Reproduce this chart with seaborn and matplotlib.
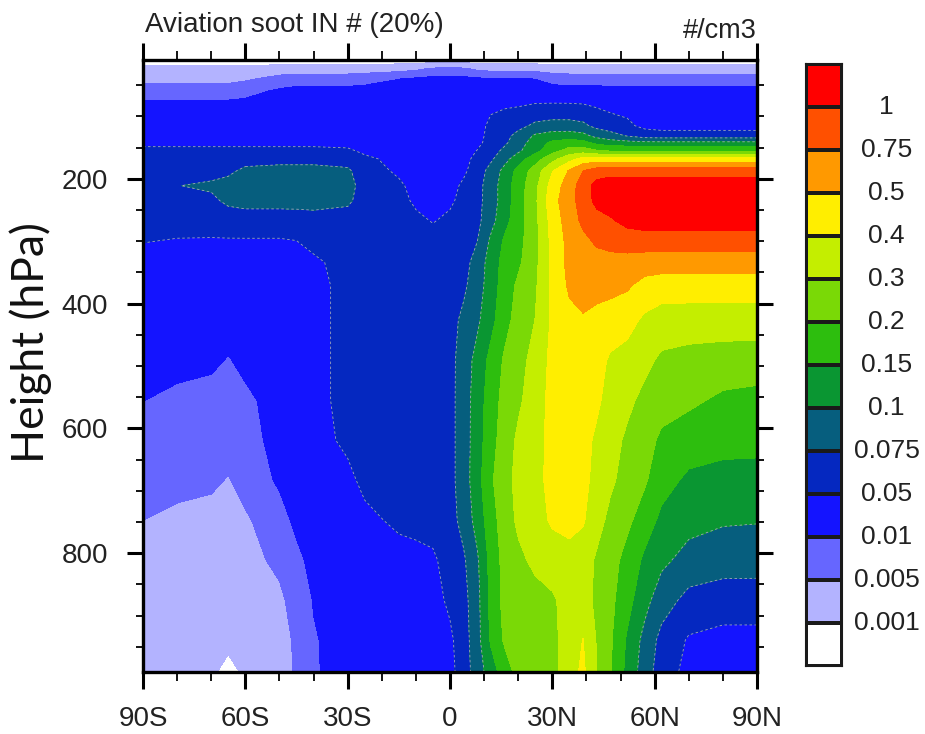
import matplotlib
matplotlib.use('Agg')
import matplotlib.pyplot as plt
import numpy as np
import seaborn as sns

# contour intervals, low to high, and the colours of the label bar
levels = [0.001, 0.005, 0.01, 0.05, 0.075, 0.1, 0.15, 0.2, 0.3, 0.4, 0.5, 0.75, 1]
level_labels = ['0.001', '0.005', '0.01', '0.05', '0.075', '0.1', '0.15', '0.2',
                '0.3', '0.4', '0.5', '0.75', '1']
band_colors = ['#FFFFFF', '#B3B3FF', '#6666FF', '#1414FF', '#0528C0', '#065E7E', '#0A9632',
               '#2DBE0E', '#7AD906', '#C4EE00', '#FFEE00', '#FF9900', '#FF5000', '#FF0000']

# value for each letter in the table below (#/cm3)
band_value = {'w': 0.0001, 'W': 0.0005, 'L': 0.003, 'q': 0.005, 'P': 0.0075, 'k': 0.01, 'c': 0.011,
              'B': 0.03, 'b': 0.045, 'd': 0.052, 'D': 0.0625, 'T': 0.0875, 'g': 0.105, 'G': 0.125,
              'C': 0.175, 'M': 0.25, 'Y': 0.35, 'O': 0.45, 'o': 0.5, 'a': 0.52, 'A': 0.62,
              'R': 0.87, 'r': 0.98, 'X': 1.35}

lats = [-90, -80, -70, -65, -60, -50, -45, -40, -30, -25, -15, -10, -5, 0, 4, 8, 12, 16,
        20, 25, 30, 35, 39, 43, 47, 52, 57, 62, 70, 80, 90]
pressures = [9, 24, 40, 59, 83, 115, 131, 142, 155, 168, 187, 211, 235, 267, 299, 334, 371,
             427, 491, 555, 619, 683, 747, 811, 875, 939, 991]

# one line per pressure, one letter per latitude
soot_rows = [
    'WWWWWWWWWWWWWWWWWWWWWWWWWWWWWWW',
    'LLLLLLLLLLLL PPP LLLLLLLLLLLLLLLL',
    'LLLLL PPPPP BBBBBBBBBB PPPPPPPPPPP',
    'PPPPP BBBBBBBBBBBBBBBBBBBBBBBBBB',
    'BBBBBBBBBBBBBBBB bbbbbbbb BBBBBBB',
    'BBBBBBBBBBBBBBBB DDD TTTT DDD BBBBB',
    'BBBBBBBBBBBBBBBB DD T GGGG TT D ddddd',
    'BBBBBBBBBBBBBBBB DD T G CCC GGGGGGGG',
    'DDDDDDDDD BBBBBB d D TT G C MM CCCCCCCC',
    'DDDDDDDDDD BBBBB DD T G C M Y OOOOOOOOO',
    'DDDD TTTTT D BBBBB D T G C M O A R rrrrrrrr',
    'D TTTTTTTT DD BBB DD T G C M O A R XXXXXXXX',
    'DDD TTTTTT DD BBB DD T G C M AA R XXXXXXXX',
    'DDDDDDDDDDDD B DDD T G C M O A RRR XXXXXX',
    'd bbbbbb DDDDDDDDD G CC M O AA RRRRRRRR',
    'BBBBBBBB DDDDDDD T G CC M O AAAAAAAAAA',
    'BBBBBBBB DDDDDDD T G C MM O AAAAA OOOOO',
    'BBBBBBBB DDDDDD TT G C MM O O a OOO YYYYY',
    'BBB P BBBB DDDDDD T G C MM Y OOOO YYY MMMM',
    'c PPPP BBB DDDDDD T G C MM Y OOOO YY MMM CC',
    'PPPPP BBB DDDDDD T G C M YY OOO YY MM CCCC',
    'PPP L P BBBB DDDDD T G MM YY OOO YY MM C GGG',
    'q LLLL P BBBB DDDD T G C M YY OOO Y MM C GG gg',
    'LLLLL PP BBBBBB DD T C MM YYYY MM C GG TTT',
    'LLLLLL P c BBBBB DD T C MMMM YY MM C G T DDD',
    'LLLLLL q k BBBBBB D T C MMMM Y o MM G T D BBB',
    'LLL w LL q k BBBBBB D T G C MMM Y o MM G T D BBB',
]
soot = np.array([[band_value[c] for c in row.replace(' ', '')] for row in soot_rows])

# contour in band position, so each interval gets the same room between grid points
edges = [0.0001] + levels + [1.5]
band_pos = np.interp(soot, edges, np.arange(len(edges)))

# take the corners off the table before contouring
soft = band_pos.copy()
soft[:, 1:-1] = 0.2 * band_pos[:, :-2] + 0.6 * band_pos[:, 1:-1] + 0.2 * band_pos[:, 2:]
band_pos = soft.copy()
band_pos[1:-1, :] = 0.2 * soft[:-2, :] + 0.6 * soft[1:-1, :] + 0.2 * soft[2:, :]

sns.set_theme(style='ticks')
plt.rcParams['font.family'] = ['Liberation Sans', 'DejaVu Sans']
W, H = 925, 734
fig = plt.figure(figsize=(W / 100, H / 100), dpi=100)

ax = fig.add_axes([143 / W, 1 - 672 / H, 614 / W, 612 / H])
ax.contourf(lats, pressures, band_pos, levels=np.arange(len(edges)),
            colors=sns.color_palette(band_colors, len(band_colors)))
ax.contour(lats, pressures, band_pos, levels=[4, 5, 6], colors='#A0A4BC',
           linewidths=0.6, linestyles=[(0, (3, 3))])

ax.set_xlim(-90, 90)
ax.set_ylim(990.4, 9.6)
ax.set_xticks([-90, -60, -30, 0, 30, 60, 90])
ax.set_xticklabels(['90S', '60S', '30S', '0', '30N', '60N', '90N'], fontsize=20, color='#222222')
ax.set_xticks(np.arange(-90, 91, 10), minor=True)
ax.set_yticks([200, 400, 600, 800])
ax.set_yticks(np.arange(50, 951, 50), minor=True)
ax.tick_params(axis='y', labelsize=20, labelcolor='#222222')
ax.tick_params(axis='x', which='major', length=12.5, width=2.2, color='black', top=True, pad=12)
ax.tick_params(axis='x', which='minor', length=6.5, width=1.3, color='black', top=True)
ax.tick_params(axis='y', which='major', length=11.5, width=2.2, color='black', right=True, pad=13.5)
ax.tick_params(axis='y', which='minor', length=5, width=1.3, color='black', right=True)
for side in ax.spines.values():
    side.set_linewidth(2.4)
    side.set_color('black')
ax.grid(False)

ax.set_ylabel('Height (hPa)', fontsize=32, family=['Lato', 'DejaVu Sans'], color='#111111')
ax.yaxis.set_label_coords((52 - 143) / 614, 0.539)
fig.text(145 / W, 1 - 32 / H, 'Aviation soot IN # (20%)', fontsize=20, color='#222222')
fig.text(757 / W, 1 - 38 / H, '#/cm3', fontsize=19.5, ha='right', color='#222222')

# label bar, one cell per interval with red on top
cax = fig.add_axes([806 / W, 1 - 666 / H, 36 / W, 602 / H])
bar_cells = np.arange(len(band_colors))[::-1].reshape(-1, 1)
sns.heatmap(bar_cells, ax=cax, cmap=band_colors, cbar=False, linewidths=1.5,
            linecolor='#1A1A1A', xticklabels=False, yticklabels=False)
for side in cax.spines.values():
    side.set_visible(True)
    side.set_linewidth(1.5)
    side.set_color('#1A1A1A')
cax.set_yticks(np.arange(1, len(band_colors)))
cax.set_yticklabels(level_labels[::-1], fontsize=19, rotation=0, ha='center', va='center',
                    color='#222222')
cax.tick_params(left=False, right=False, labelleft=False, labelright=True, pad=32, length=0)

fig.savefig('out.png', dpi=100, facecolor='white')
